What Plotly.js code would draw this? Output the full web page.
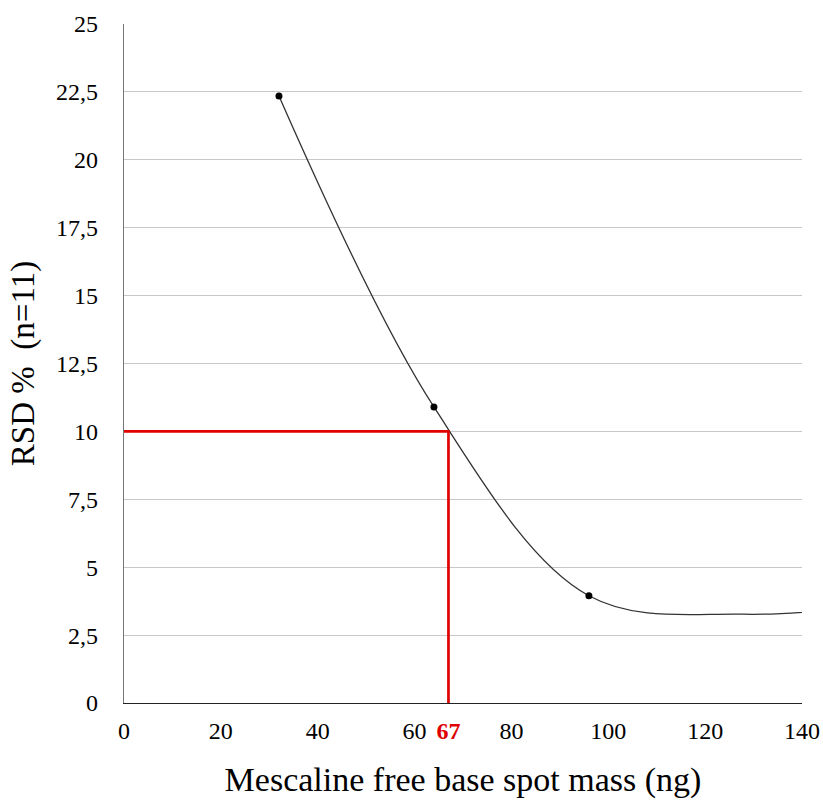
<!DOCTYPE html>
<html>
<head>
<meta charset="utf-8">
<script src="https://cdn.plot.ly/plotly-3.0.1.min.js"></script>
<style>
html,body{margin:0;padding:0;background:#fff;}
#chart{width:823px;height:802px;}
</style>
</head>
<body>
<div id="chart"></div>
<script>
// Measured points (spot mass in ng, RSD %)
var massNg = [32, 64, 96];
var rsdPct = [22.35, 10.9, 3.95];
// Smoothed curve through the points, continuing past the axis end (clipped at 140)
var curveX = [32, 64, 96, 128, 160];
var curveY = [22.35, 10.9, 3.95, 3.27, 3.7];
// Limit lines (RSD 10 % -> 67 ng)
var limitX = [0, 67, 67];
var limitY = [10, 10, 0];
// Tick labels
var xTickVals = [0, 20, 40, 60, 67, 80, 100, 120, 140];
var xTickText = ['0', '20', '40', '60', '<span style="color:#e00000"><b>67</b></span>', '80', '100', '120', '140'];
var yTickVals = [0, 2.5, 5, 7.5, 10, 12.5, 15, 17.5, 20, 22.5, 25];
var yTickText = ['0', '2,5', '5', '7,5', '10', '12,5', '15', '17,5', '20', '22,5', '25'];

var font = '"Liberation Serif", "Times New Roman", serif';

var traces = [
  {
    x: curveX, y: curveY, type: 'scatter', mode: 'lines',
    line: {shape: 'spline', smoothing: 1, color: '#333333', width: 1.3},
    hoverinfo: 'skip', showlegend: false
  },
  {
    x: limitX, y: limitY, type: 'scatter', mode: 'lines',
    line: {color: '#e00000', width: 2.7},
    showlegend: false
  },
  {
    x: massNg, y: rsdPct, type: 'scatter', mode: 'markers',
    marker: {color: '#000000', size: 7},
    showlegend: false
  }
];

var layout = {
  width: 823, height: 802,
  margin: {l: 124, r: 21, t: 24, b: 99},
  paper_bgcolor: '#ffffff', plot_bgcolor: '#ffffff',
  font: {family: font, color: '#000000', size: 24},
  xaxis: {
    range: [0, 140], tickvals: xTickVals, ticktext: xTickText,
    showgrid: false, zeroline: false,
    showline: true, linecolor: '#222222', linewidth: 1.3,
    ticks: 'outside', ticklen: 6, tickcolor: 'rgba(0,0,0,0)',
    tickfont: {family: font, size: 24, color: '#000000'},
    title: {text: 'Mescaline free base spot mass (ng)', font: {family: font, size: 34, color: '#000000'}, standoff: 24},
    fixedrange: true
  },
  yaxis: {
    range: [0, 25], tickvals: yTickVals, ticktext: yTickText,
    showgrid: true, gridcolor: '#c8c8c8', gridwidth: 1,
    zeroline: false,
    showline: true, linecolor: '#777777', linewidth: 1.3,
    ticks: 'outside', ticklen: 20, tickcolor: 'rgba(0,0,0,0)',
    tickfont: {family: font, size: 24, color: '#000000'},
    title: {text: 'RSD %  (n=11)', font: {family: font, size: 33, color: '#000000'}, standoff: 11},
    fixedrange: true
  }
};

Plotly.newPlot('chart', traces, layout, {displayModeBar: false, staticPlot: true});
</script>
</body>
</html>
